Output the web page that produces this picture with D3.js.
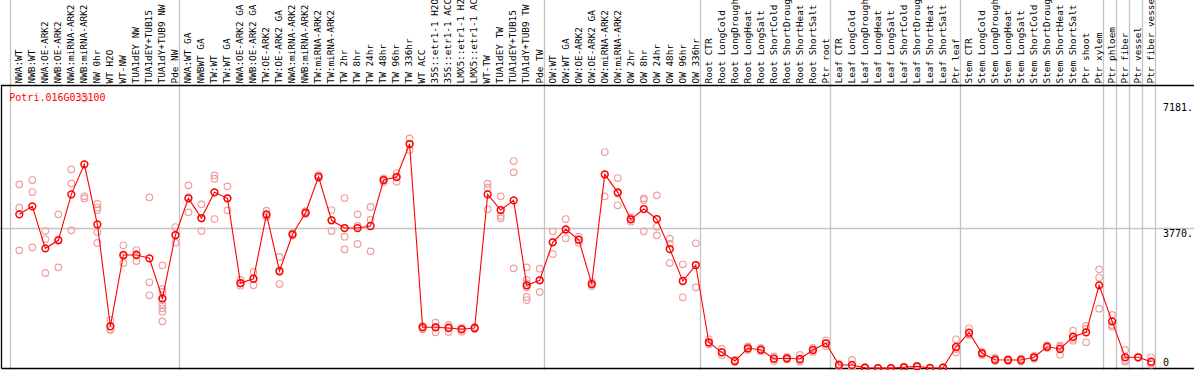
<!DOCTYPE html>
<html><head><meta charset="utf-8">
<script src="https://cdn.jsdelivr.net/npm/d3@7"></script>
<style>html,body{margin:0;padding:0;background:#fff;overflow:hidden}svg{display:block}</style>
</head><body>
<script>
const geneName = "Potri.016G033100";
const categories = ["NWA:WT","NWB:WT","NWA:OE-ARK2","NWB:OE-ARK2","NWA:miRNA-ARK2","NWB:miRNA-ARK2","NW 0hr","WT H2O","WT-NW","TUA1dEY NW","TUA1dEY+TUB15","TUA1dY+TUB9 NW","Pde NW",
"NWA:WT GA","NWBWT GA","TW:WT","TW:WT GA","NWA:OE-ARK2 GA","NWB:OE-ARK2 GA","TW:OE-ARK2","TW:OE-ARK2 GA","NWA:miRNA-ARK2","NWB:miRNA-ARK2","TW:miRNA-ARK2","TW:miRNA-ARK2","TW 2hr","TW 8hr","TW 24hr","TW 48hr","TW 96hr","TW 336hr","WT ACC","35S::etr1-1 H2O","35S::etr1-1 ACC","LMX5::etr1-1 H2O","LMX5::etr1-1 ACC","WT-TW","TUA1dEY TW","TUA1dEY+TUB15","TUA1dY+TUB9 TW","Pde TW",
"OW:WT","OW:WT GA","OW:OE-ARK2","OW:OE-ARK2 GA","OW:miRNA-ARK2","OW:miRNA-ARK2","OW 2hr","OW 8hr","OW 24hr","OW 48hr","OW 96hr","OW 336hr",
"Root CTR","Root LongCold","Root LongDrought","Root LongHeat","Root LongSalt","Root ShortCold","Root ShortDrought","Root ShortHeat","Root ShortSalt","Ptr root",
"Leaf CTR","Leaf LongCold","Leaf LongDrought","Leaf LongHeat","Leaf LongSalt","Leaf ShortCold","Leaf ShortDrought","Leaf ShortHeat","Leaf ShortSalt","Ptr leaf",
"Stem CTR","Stem LongCold","Stem LongDrought","Stem LongHeat","Stem LongSalt","Stem ShortCold","Stem ShortDrought","Stem ShortHeat","Stem ShortSalt","Ptr shoot","Ptr xylem",
"Ptr phloem","Ptr fiber","Ptr vessel","Ptr fiber vessel"];

const groupBreaks = [0, 13, 41, 53, 63, 73, 84, 85, 86, 87, 88];

const meanValues = [4146,4362,3230,3446,4685,5493,3877,1129,3050,3050,2961,1883,3588,
4577,4046,4739,4577,2295,2411,4146,2619,3607,4189,5159,3984,3777,3777,3831,5070,5151,6040,1102,1102,1083,1048,1083,4685,4262,4523,2233,2368,
3392,3742,3462,2268,5224,4739,4011,4289,4019,3211,2349,2780,
698,428,194,536,498,256,267,248,490,671,
86,86,13,3,3,24,51,5,13,571,
956,401,229,221,221,294,579,517,849,967,2233,
1263,294,294,175];

const replicateValues = [
[4954,4324,3176],[5070,4747,3257],[3696,3473,2565],[4146,3473,2718],[5358,4981,3715],[7271,4631,4574],
[4424,4329,4262,3669,3373],[1298,1048,1029],[3311,2834,3017],[3184,2888,3077],[4604,2314,1964],
[2772,2134,2053,1838,1721,1614,1522,1263],[3804,3381,3588],
[4927,4200,4612],[4415,3696,4033],[5197,5105,4019],[4900,4254,4585],[2376,2223,2282],[2592,2233,2403],
[4243,4081,4114],[2996,2268,2592],[3642,3575,3602],[4235,4154,4181],[5205,5124,5151],[4262,3696,3992],
[4585,3543,3203],[4146,3346,3831],[4343,4001,3149],[5116,5070,5016],[5259,5024,5164],[6193,5878,6053],
[1137,1048,1110],[1226,967,1110],[1164,975,1110],[983,1083,1070],[1110,1056,1083],
[4970,4863,4281],[4631,4108,4038],[5582,5277,2691],[2718,2376,2287,2179,1918,1837],[2681,2053,2376],
[3688,3077,3400],[4019,3500,3723],[3543,3381,3454],[2322,2214,2268],[5824,4631,5218],[5124,4389,4706],
[4065,3947,4019],[4577,4531,3688],[4658,3812,3580],[3489,3354,2834],[2799,1910,2349],[3365,2179,2780],
[779,644,679],[525,348,423],[221,167,194],[585,490,531],[544,463,490],[315,194,261],[302,234,267],[356,180,221],[544,436,490],[746,598,665],
[113,59,86],[221,19,19],[30,5,5],[8,0,2],[6,2,0],[40,15,17],[70,40,43],[10,2,3],[25,8,6],[779,428,517],
[1075,894,908],[436,356,411],[275,194,218],[248,194,221],[261,180,221],[329,261,292],[612,544,581],[606,364,571],[1010,741,800],[1137,698,1056],[2664,2443,1603],
[1433,1164,1118],[490,175,217],[302,290,290],[294,132,100]];

const tickValues = [0, 3770, 7181];
const tickLabels = ["0", "3770.", "7181."];

const W = 1194, H = 370;
const svg = d3.select("body").append("svg").attr("width", W).attr("height", H);
const n = categories.length;
const colX = d3.scaleLinear().domain([0, n]).range([11.2, 11.2 + n * 13.01]);
const px = i => colX(i) + 8.1;
const y = d3.scaleLinear().domain([0, 7181]).range([368.2, 101.7]);
const grid = "#c4c4c4";

// horizontal gridline(s)
svg.selectAll("line.h").data(tickValues.filter(v => v > 0 && v < 7181)).enter().append("line")
  .attr("x1", 0).attr("x2", W).attr("y1", d => Math.round(y(d)) + 0.5).attr("y2", d => Math.round(y(d)) + 0.5)
  .attr("stroke", grid).attr("stroke-width", 1.3);

// group separators
svg.selectAll("line.v").data(groupBreaks).enter().append("line")
  .attr("x1", d => Math.round(colX(d)) - 0.5).attr("x2", d => Math.round(colX(d)) - 0.5)
  .attr("y1", 0).attr("y2", H).attr("stroke", grid).attr("stroke-width", 1.3);

// frame
svg.append("path").attr("d", `M1.5,${H - 1.5} L1.5,85.5 L${W + 2},85.5 M1.5,${H - 1.5} L${W + 2},${H - 1.5}`)
  .attr("fill", "none").attr("stroke", "#000").attr("stroke-width", 1.3);

// category labels
svg.selectAll("text.cat").data(categories).enter().append("text")
  .attr("transform", (d, i) => `translate(${px(i) + 2.8},83.5) rotate(-90)`)
  .attr("font-family", "DejaVu Sans Mono, monospace").attr("font-size", "9.4px")
  .attr("fill", "#000").text(d => d);

// gene name
svg.append("text").attr("x", 9.3).attr("y", 100.7)
  .attr("font-family", "DejaVu Sans Mono, monospace").attr("font-size", "10px")
  .attr("fill", "#ff0000").text(geneName);

// y tick labels
svg.selectAll("text.tick").data(tickValues).enter().append("text")
  .attr("x", 1163)
  .attr("y", (d, i) => d === 0 ? y(d) - 2.3 : y(d) + 8.8)
  .attr("font-family", "DejaVu Sans Mono, monospace").attr("font-size", "10px")
  .attr("fill", "#000").text((d, i) => tickLabels[i]);

// replicates
const repPts = [];
replicateValues.forEach((arr, i) => arr.forEach(v => repPts.push({i, v})));
svg.selectAll("circle.rep").data(repPts).enter().append("circle")
  .attr("cx", d => px(d.i)).attr("cy", d => y(d.v)).attr("r", 3.3)
  .attr("fill", "none").attr("stroke", "#f0a0a0").attr("stroke-width", 1.2);

// mean line
svg.append("path").datum(meanValues)
  .attr("d", d3.line().x((d, i) => px(i)).y(d => y(d)))
  .attr("fill", "none").attr("stroke", "#ff0000").attr("stroke-width", 1.1);

// mean markers
svg.selectAll("circle.mean").data(meanValues).enter().append("circle")
  .attr("cx", (d, i) => px(i)).attr("cy", d => y(d)).attr("r", 3.4)
  .attr("fill", "none").attr("stroke", "#ff0000").attr("stroke-width", 1.5);
</script>
</body></html>
